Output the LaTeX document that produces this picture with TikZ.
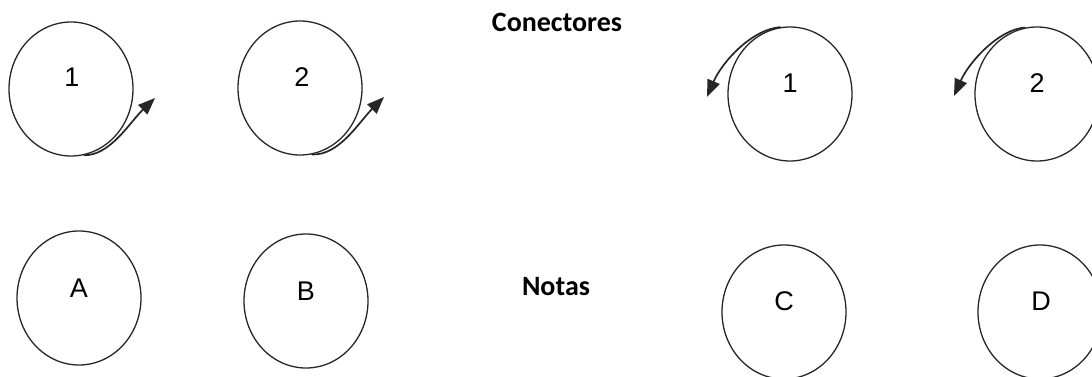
\documentclass[tikz,border=0pt]{standalone}
\usepackage{fontspec}
\setmainfont{Liberation Sans}
\newfontfamily\titlefont{Carlito}
\usetikzlibrary{shapes.geometric,arrows.meta}
\tikzset{
  circ/.style={draw=black!85, line width=1.3pt, ellipse, inner sep=0pt,
               minimum width=124pt, minimum height=134pt},
  lbl/.style={font=\fontsize{27}{27}\selectfont, inner sep=0pt},
  ttl/.style={font=\titlefont\bfseries\fontsize{28}{28}\selectfont, inner sep=0pt},
  conn/.style={draw=black!85, line width=1.7pt, -{Triangle[length=17pt,width=13pt]}}
}
\begin{document}
\begin{tikzpicture}[x=1pt,y=-1pt]
\useasboundingbox (0,0) rectangle (1092,377);
% top row circles
\node[circ] (t1) at (71,89) {};
\node[circ] (t2) at (300,88) {};
\node[circ] (t3) at (790,94) {};
\node[circ] (t4) at (1037,94) {};
\node[lbl] (l1) at (72,77) {1};
\node[lbl] (l2) at (302,77) {2};
\node[lbl] (l3) at (790,83) {1};
\node[lbl] (l4) at (1037,83) {2};
% bottom row circles
\node[circ] (bA) at (79,298) {};
\node[circ] (bB) at (306,301) {};
\node[circ] (bC) at (784,312) {};
\node[circ] (bD) at (1040,312) {};
\node[lbl] (lA) at (79,288) {A};
\node[lbl] (lB) at (306,291) {B};
\node[lbl] (lC) at (784,301) {C};
\node[lbl] (lD) at (1041,301) {D};
% titles
\node[ttl] (conectores) at (557,22) {Conectores};
\node[ttl] (notas) at (556,287) {Notas};
% connector arrows
\coordinate (e1) at (155,98);
\coordinate (e2) at (384,97);
\coordinate (e3) at (707,97);
\coordinate (e4) at (954,96);
\draw[conn] (t1.-79) .. controls (110,156) and (130,122) .. (e1);
\draw[conn] (t2.-80) .. controls (339,156) and (359,122) .. (e2);
\draw[conn] (t3.98) .. controls (752,29) and (722,62) .. (e3);
\draw[conn] (t4.100) .. controls (999,29) and (969,62) .. (e4);
\end{tikzpicture}
\end{document}
